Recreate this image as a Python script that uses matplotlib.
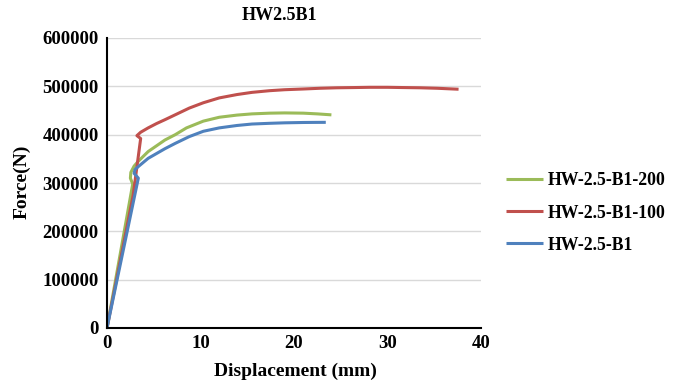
import matplotlib
matplotlib.use("Agg")
import matplotlib.pyplot as plt

title = "HW2.5B1"
x_label = "Displacement (mm)"
y_label = "Force(N)"

# HW-2.5-B1-200 (green)
green_x = [0, 2.75, 2.5, 2.55, 2.9, 3.35, 4.4, 6.2, 7.3, 8.5, 10.3, 12, 13.9, 15.5, 17.4, 19, 21, 22.5, 24.0]
green_y = [0, 298000, 310000, 322000, 335000, 345000, 365000, 389000, 400000, 414000, 428000, 436000, 440500, 443000, 444500, 445000, 444500, 443000, 441000]

# HW-2.5-B1-100 (red)
red_x = [0, 2.8, 3.6, 3.2, 3.6, 4.4, 5.3, 6.2, 7.5, 8.8, 10.3, 12, 13.9, 15.5, 17.4, 19, 21, 22.8, 24.6, 26.5, 28.1, 30, 31.6, 33.5, 35.3, 37.6]
red_y = [0, 275000, 392000, 398000, 405000, 414000, 423000, 431000, 443000, 455000, 466000, 476000, 483000, 487500, 491000, 493000, 494500, 496000, 497000, 497500, 498000, 498000, 497500, 497000, 496000, 494000]

# HW-2.5-B1 (blue)
blue_x = [0, 3.35, 2.9, 3.0, 3.35, 4.4, 5.3, 6.2, 7.3, 8.8, 10.3, 12, 13.9, 15.5, 17.4, 19, 21, 22.3, 23.4]
blue_y = [0, 310000, 320000, 328000, 334000, 351000, 361000, 371000, 382000, 396000, 407000, 414000, 419000, 422000, 423500, 424500, 425200, 425400, 425500]

series_labels = ["HW-2.5-B1-200", "HW-2.5-B1-100", "HW-2.5-B1"]
colors = ["#9BBB59", "#C0504D", "#4F81BD"]

x_ticks = [0, 10, 20, 30, 40]
y_ticks = [0, 100000, 200000, 300000, 400000, 500000, 600000]

plt.rcParams['font.family'] = ['Liberation Serif', 'DejaVu Serif']
plt.rcParams['font.weight'] = 'bold'

fig = plt.figure(figsize=(6.81, 3.84), dpi=100)
ax = fig.add_axes([107/681, 1 - 328/384, (481-107)/681, (328-38)/384])

for xs, ys, lab, c in zip([green_x, red_x, blue_x], [green_y, red_y, blue_y], series_labels, colors):
    ax.plot(xs, ys, color=c, lw=2.2, label=lab, solid_joinstyle='round', solid_capstyle='butt')

ax.set_xlim(0, 40)
ax.set_ylim(0, 600000)
ax.set_xticks(x_ticks)
ax.set_yticks(y_ticks)
ax.set_xticklabels([str(v) for v in x_ticks], fontsize=13.5, fontweight='bold')
ax.set_yticklabels([str(v) for v in y_ticks], fontsize=13.5, fontweight='bold')
ax.tick_params(axis='y', length=0, pad=6)
ax.tick_params(axis='x', length=0, pad=5)
ax.yaxis.grid(True, color='#D9D9D9', lw=1.0)
ax.set_axisbelow(True)
for s in ['top', 'right']:
    ax.spines[s].set_visible(False)
for s in ['left', 'bottom']:
    ax.spines[s].set_linewidth(1.5)
    ax.spines[s].set_color('black')

fig.text(295/681, 1 - 371/384, x_label, fontsize=14, fontweight='bold', ha='center', va='center')
fig.text(22/681, 1 - 182/384, y_label, fontsize=14, fontweight='bold', ha='center', va='center', rotation=90)
fig.text(279/681, 1 - 15/384, title, fontsize=13, fontweight='bold', ha='center', va='center')

leg = fig.legend(loc='center left', bbox_to_anchor=(490/681, 1 - 213/384), frameon=False,
                 prop={'size': 12.8, 'weight': 'bold'}, handlelength=2.1, labelspacing=0.85,
                 handletextpad=0.25)

fig.savefig("out.png", dpi=100)
